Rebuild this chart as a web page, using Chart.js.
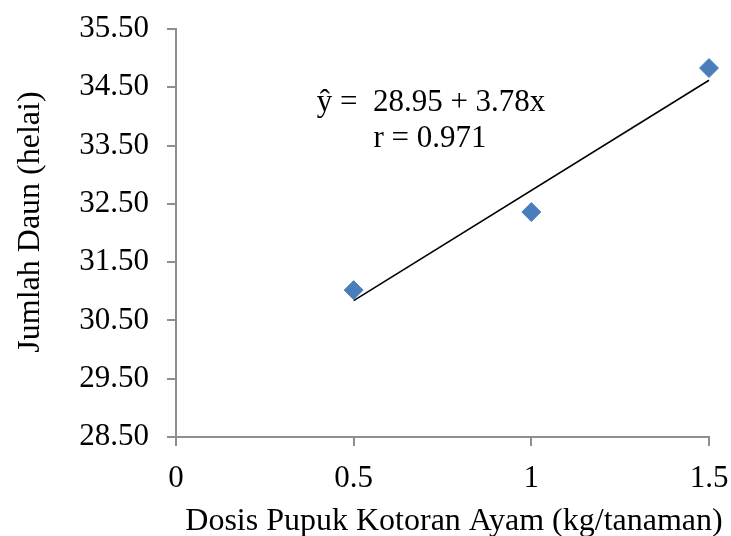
<!DOCTYPE html>
<html>
<head>
<meta charset="utf-8">
<script src="https://cdn.jsdelivr.net/npm/chart.js@4.4.1/dist/chart.umd.min.js"></script>
<style>
html,body{margin:0;padding:0;background:#fff;}
#wrap{width:731px;height:536px;position:relative;}
</style>
</head>
<body>
<div id="wrap"><canvas id="c" width="731" height="536"></canvas></div>
<script>
// ---- data ----
const doses = [0.5, 1, 1.5];
const leaves = [31.02, 32.36, 34.83];
const trendX = [0.5, 1.5];
const trendY = [30.84, 34.62];
const xTicks = [0, 0.5, 1, 1.5];
const yTicks = [28.5, 29.5, 30.5, 31.5, 32.5, 33.5, 34.5, 35.5];
const xTitle = 'Dosis Pupuk Kotoran Ayam (kg/tanaman)';
const yTitle = 'Jumlah Daun (helai)';
const eqLines = ['ŷ =  28.95 + 3.78x', 'r = 0.971'];

const FONT = '"Liberation Serif", "Times New Roman", serif';
const AXIS = '#8e8e8e';

const textPlugin = {
  id: 'texts',
  afterDraw(chart) {
    const ctx = chart.ctx;
    const a = chart.chartArea;
    ctx.save();
    ctx.fillStyle = '#000';
    ctx.font = '31px ' + FONT;
    ctx.textAlign = 'center';
    ctx.textBaseline = 'alphabetic';
    ctx.fillText(eqLines[0], a.left + 255, a.top + 82);
    ctx.fillText(eqLines[1], a.left + 254, a.top + 118);
    // x title
    ctx.font = '32px ' + FONT;
    ctx.fillText(xTitle, a.left + 278, 530);
    // y title
    ctx.translate(39, a.top + 193);
    ctx.rotate(-Math.PI / 2);
    ctx.fillText(yTitle, 0, 0);
    ctx.restore();
  }
};

new Chart(document.getElementById('c'), {
  type: 'scatter',
  data: {
    datasets: [
      {
        label: 'data',
        data: doses.map((d, i) => ({x: d, y: leaves[i]})),
        pointStyle: 'rectRot',
        pointRadius: 9.5,
        backgroundColor: '#4a7ebb',
        borderColor: '#4f81bd',
        borderWidth: 1,
        clip: false,
        order: 1
      },
      {
        label: 'trend',
        type: 'line',
        data: trendX.map((d, i) => ({x: d, y: trendY[i]})),
        borderColor: '#000',
        borderWidth: 1.6,
        pointRadius: 0,
        fill: false,
        clip: false,
        order: 2
      }
    ]
  },
  options: {
    responsive: false,
    animation: false,
    devicePixelRatio: 1,
    layout: {padding: {left: 0, top: 29, right: 22, bottom: 0}},
    plugins: {legend: {display: false}, tooltip: {enabled: false}},
    scales: {
      x: {
        type: 'linear',
        min: 0, max: 1.5,
        afterBuildTicks(s) { s.ticks = xTicks.map(v => ({value: v})); },
        afterFit(s) { s.height = 99; s.paddingLeft = 0; s.paddingRight = 0; },
        grid: {drawOnChartArea: false, drawTicks: true, tickLength: 9, color: AXIS, lineWidth: 2},
        border: {display: true, color: AXIS, width: 2},
        ticks: {
          color: '#000', font: {family: FONT, size: 31}, padding: 14,
          maxRotation: 0,
          callback: v => String(v)
        }
      },
      y: {
        type: 'linear',
        min: 28.5, max: 35.5,
        afterBuildTicks(s) { s.ticks = yTicks.map(v => ({value: v})); },
        afterFit(s) { s.width = 176; s.paddingTop = 0; s.paddingBottom = 0; },
        grid: {drawOnChartArea: false, drawTicks: true, tickLength: 9, color: AXIS, lineWidth: 2},
        border: {display: true, color: AXIS, width: 2},
        ticks: {
          color: '#000', font: {family: FONT, size: 31}, padding: 18,
          callback: v => Number(v).toFixed(2)
        }
      }
    }
  },
  plugins: [textPlugin]
});
</script>
</body>
</html>
